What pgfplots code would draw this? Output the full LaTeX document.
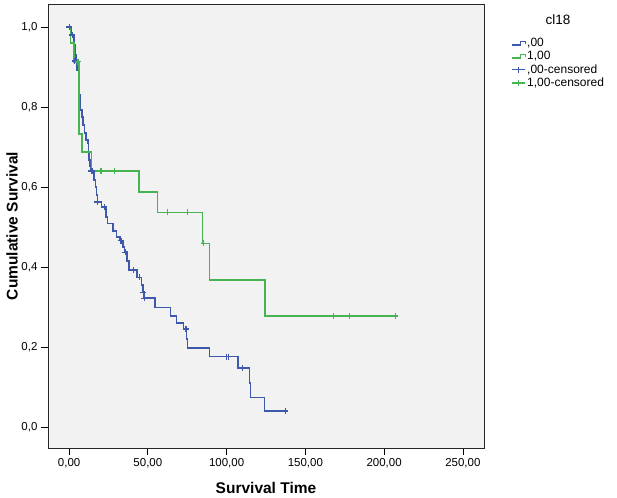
\documentclass[border=0pt]{standalone}
\usepackage{fontspec}
\setmainfont{Liberation Sans}
\usepackage{pgfplots}
\pgfplotsset{compat=1.18}
\definecolor{spssblue}{RGB}{62,88,172}
\definecolor{spssgreen}{RGB}{70,180,80}
\definecolor{bggray}{RGB}{242,242,242}
\pgfplotsset{
  steplegend/.style={legend image code/.code={\draw[##1] (0pt,-1.7pt) -- (8.5pt,-1.7pt) -- (8.5pt,1.7pt) -- (13.5pt,1.7pt) -- (13.5pt,-0.3pt);}},
  censlegend/.style={legend image code/.code={\draw[##1] (0pt,0pt) -- (13.5pt,0pt); \draw[##1] plot[mark=+, mark size=3pt] coordinates {(6.75pt,0pt)};}},
}
\begin{document}
\begin{tikzpicture}
\begin{axis}[
  scale only axis, width=436pt, height=444pt,
  at={(0pt,0pt)}, anchor=south west,
  xmin=-13.4, xmax=263.4, ymin=-0.0525, ymax=1.0575,
  axis background/.style={fill=bggray},
  axis line style={black!85, line width=0.8pt},
  xtick={0,50,100,150,200,250},
  xticklabels={{0,00},{50,00},{100,00},{150,00},{200,00},{250,00}},
  ytick={0,0.2,0.4,0.6,0.8,1.0},
  yticklabels={{0,0},{0,2},{0,4},{0,6},{0,8},{1,0}},
  xtick pos=left, ytick pos=left,
  tick align=outside, major tick length=7pt,
  tick style={black, line width=0.8pt},
  ticklabel style={font=\fontsize{11.5}{13}\selectfont},
  xlabel={Survival Time}, ylabel={Cumulative Survival},
  label style={font=\bfseries\fontsize{15.5}{18}\selectfont},
  xlabel style={at={(axis description cs:0.5,-0.090)}, anchor=center},
  ylabel style={at={(axis description cs:-0.0826,0.5)}, anchor=center},
  legend style={at={(rel axis cs:1.062,0.9255)}, anchor=north west, draw=none, fill=none,
    font=\fontsize{12}{14}\selectfont, inner sep=0pt, row sep=1.2pt,
    nodes={inner sep=1pt}},
  legend cell align=left,
]
% step lines
\addplot[const plot, draw=spssblue, line width=1.5pt, steplegend]
coordinates {
(0,1.0) (1.5,0.98) (3.18,0.955) (3.82,0.93) (4.45,0.9125) (5.09,0.8925) (6.04,0.8675)
(6.68,0.83) (7.32,0.7925) (8.27,0.775) (8.91,0.755) (9.86,0.735) (10.81,0.7175)
(12.09,0.71) (12.40,0.6875) (12.72,0.6675) (13.36,0.6525) (13.99,0.64) (15.9,0.6175)
(16.86,0.6) (17.5,0.58) (18.0,0.5625) (20.5,0.55) (23.5,0.525) (24.36,0.509)
(28.0,0.49) (30.0,0.475) (32.4,0.466) (34.35,0.45) (35.3,0.437) (36.9,0.415)
(38.17,0.3925) (43.0,0.374) (45.8,0.355) (47.0,0.337) (47.5,0.322) (54.52,0.299)
(64.25,0.278) (68.26,0.26) (72.5,0.245) (74.6,0.22) (75.2,0.197) (89.06,0.176)
(107.2,0.147) (114.5,0.11) (115.1,0.074) (124.05,0.04) (137.2,0.04)
};
\addlegendentry{,00}
\addplot[const plot, draw=spssgreen, line width=1.5pt, steplegend]
coordinates {
(0,1.0) (0.8,0.96) (3.0,0.913) (6.4,0.7325) (8.3,0.6875) (14.2,0.64) (44.5,0.588)
(56.2,0.5367) (84.8,0.459) (89.1,0.3675) (124.5,0.2775) (207.2,0.2775)
};
\addlegendentry{1,00}
% censored
\addplot[only marks, mark=+, mark size=3pt, draw=spssblue, line width=1.2pt, censlegend]
coordinates {
(0,1.0) (2.1,0.98) (3.6,0.915) (13.99,0.64) (14.6,0.64) (18.0,0.5625) (22.26,0.55)
(32.89,0.466) (35.62,0.437) (40.71,0.3925) (44.53,0.374) (47.07,0.337) (47.71,0.322)
(74.24,0.245) (100.06,0.176) (101.34,0.176) (109.86,0.147) (137.2,0.04)
};
\addlegendentry{,00-censored}
\addplot[only marks, mark=+, mark size=3pt, draw=spssgreen, line width=1.2pt, censlegend]
coordinates {
(5.7,0.913) (20.2,0.64) (28.6,0.64) (62.5,0.5367) (75.3,0.5367) (85.4,0.459)
(167.9,0.2775) (177.9,0.2775) (207.2,0.2775)
};
\addlegendentry{1,00-censored}
\end{axis}
\node[font=\fontsize{13.5}{16}\selectfont] at (510pt,428pt) {cl18};
\pgfresetboundingbox
\useasboundingbox (-48pt,-49pt) rectangle (569pt,448pt);
\end{tikzpicture}
\end{document}
